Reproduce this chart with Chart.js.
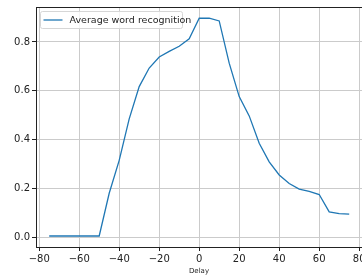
<!DOCTYPE html>
<html>
<head>
<meta charset="utf-8">
<script src="https://cdn.jsdelivr.net/npm/chart.js@4/dist/chart.umd.min.js"></script>
<style>
  html, body { margin: 0; padding: 0; background: #fff; overflow: hidden; }
  #wrap { width: 362px; height: 275px; }
</style>
</head>
<body>
<div id="wrap"><canvas id="c" width="362" height="275"></canvas></div>
<script>
const delays = [-75, -70, -65, -60, -55, -50, -45, -40, -35, -30, -25, -20, -15, -10, -5,
  0, 5, 10, 15, 20, 25, 30, 35, 40, 45, 50, 55, 60, 65, 70, 75];
const recognition = [0.005, 0.005, 0.005, 0.005, 0.005, 0.005, 0.18, 0.315, 0.485, 0.617, 0.693, 0.738, 0.761, 0.782, 0.813,
  0.897, 0.897, 0.886, 0.713, 0.576, 0.497, 0.385, 0.309, 0.255, 0.22, 0.197, 0.188, 0.175, 0.104, 0.097, 0.095];
const xTicks = [-80, -60, -40, -20, 0, 20, 40, 60, 80];
const yTicks = [0, 0.2, 0.4, 0.6, 0.8];
const seriesLabel = 'Average word recognition';
const xTitle = 'Delay';

const font = 'DejaVu Sans';
const gridColor = '#cbcbcb';

// top spine + legend box inside the plot area
const frame = {
    id: 'frame',
    afterDraw(chart) {
        const { ctx, chartArea: { top, left, right } } = chart;
        ctx.save();
        ctx.strokeStyle = '#222';
        ctx.lineWidth = 1;
        ctx.beginPath();
        ctx.moveTo(left, top + 0.5);
        ctx.lineTo(right, top + 0.5);
        ctx.stroke();

        const ds = chart.data.datasets[0];
        const x = left + 4.5, y = top + 4.5, w = 142, h = 17;
        ctx.fillStyle = 'rgba(255,255,255,0.8)';
        ctx.strokeStyle = '#d6d6d6';
        ctx.beginPath();
        ctx.roundRect(x, y, w, h, 2);
        ctx.fill();
        ctx.stroke();
        ctx.strokeStyle = ds.borderColor;
        ctx.lineWidth = 1.3;
        ctx.beginPath();
        ctx.moveTo(x + 3, y + 8.5);
        ctx.lineTo(x + 22, y + 8.5);
        ctx.stroke();
        ctx.fillStyle = '#222';
        ctx.font = '9.5px "' + font + '"';
        ctx.textBaseline = 'middle';
        ctx.fillText(ds.label, x + 29, y + 9);
        ctx.restore();
    }
};

new Chart(document.getElementById('c'), {
    type: 'line',
    data: {
        datasets: [{
            label: seriesLabel,
            data: delays.map((d, i) => ({ x: d, y: recognition[i] })),
            borderColor: '#1f77b4',
            borderWidth: 1.3,
            pointRadius: 0,
            tension: 0,
            fill: false
        }]
    },
    options: {
        responsive: false,
        animation: false,
        layout: { padding: { top: 7, right: 0, left: 0, bottom: 0 } },
        scales: {
            x: {
                type: 'linear',
                min: -81.6,
                max: 81.4,
                afterBuildTicks: s => { s.ticks = xTicks.map(v => ({ value: v })); },
                afterFit: s => { s.height = 28; s.paddingLeft = 0; s.paddingRight = 0; },
                grid: { color: gridColor, lineWidth: 1, tickColor: '#222', tickLength: 4 },
                border: { color: '#222', width: 1 },
                ticks: {
                    font: { family: font, size: 10 },
                    color: '#222',
                    padding: 2,
                    maxRotation: 0,
                    callback: v => v < 0 ? '\u2212' + Math.abs(v) : String(v)
                },
                title: {
                    display: true,
                    text: xTitle,
                    font: { family: font, size: 7 },
                    color: '#222',
                    padding: { top: 0, bottom: 0 }
                }
            },
            y: {
                min: -0.04,
                max: 0.943,
                afterBuildTicks: s => { s.ticks = yTicks.map(v => ({ value: v })); },
                afterFit: s => { s.width = 36; s.paddingTop = 0; s.paddingBottom = 0; },
                grid: { color: gridColor, lineWidth: 1, tickColor: '#222', tickLength: 4 },
                border: { color: '#222', width: 1 },
                ticks: {
                    font: { family: font, size: 10 },
                    color: '#222',
                    padding: 2,
                    callback: v => v.toFixed(1)
                }
            }
        },
        plugins: {
            legend: { display: false },
            tooltip: { enabled: false }
        }
    },
    plugins: [frame]
});
</script>
</body>
</html>
